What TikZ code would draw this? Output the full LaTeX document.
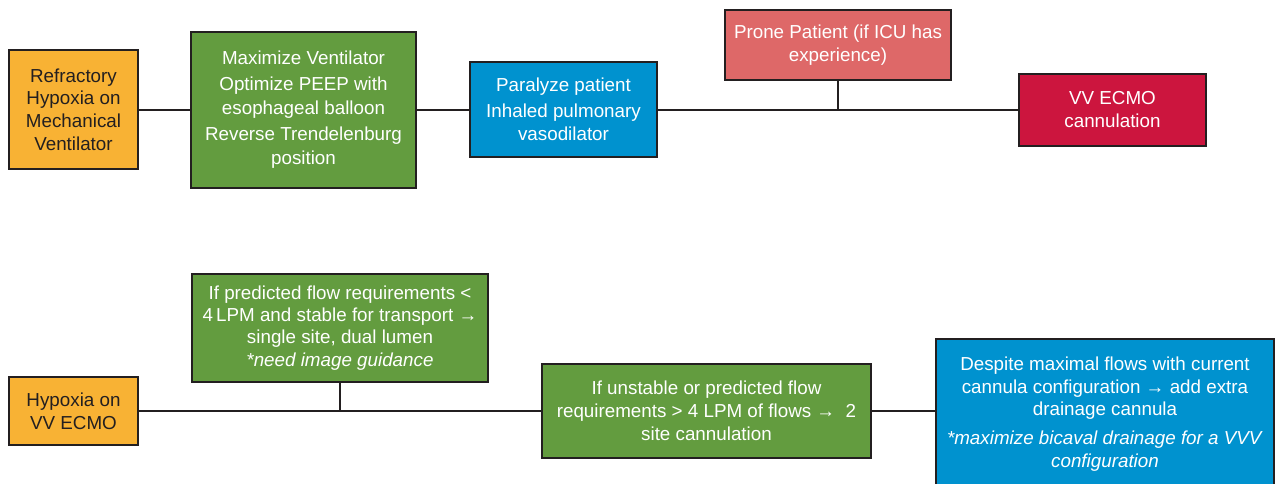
\documentclass[tikz,border=0pt]{standalone}
\usepackage{fontspec}
\setmainfont{Liberation Sans}
\definecolor{orangeC}{RGB}{248,178,52}
\definecolor{greenC}{RGB}{99,156,63}
\definecolor{blueC}{RGB}{0,146,207}
\definecolor{proneC}{RGB}{222,104,104}
\definecolor{redC}{RGB}{204,21,62}
\definecolor{edgeC}{RGB}{35,31,32}
\begin{document}
\begin{tikzpicture}[x=0.5pt,y=-0.5pt,
  box/.style={draw=edgeC,line width=1pt,rectangle,align=center,inner sep=0pt,
    font=\fontsize{9.4}{11.4}\selectfont},
  wtext/.style={text=white},
  dtext/.style={text=edgeC},
  conn/.style={draw=edgeC,line width=1pt}]
\useasboundingbox (0,0) rectangle (1275,483);
\fill[white] (0,0) rectangle (1275,483);
% top row
\node[box,dtext,fill=orangeC,minimum width=64.5pt,minimum height=59.5pt] (refr) at (73.5,109.5)
  {Refractory\\Hypoxia on\\Mechanical\\Ventilator};
\node[box,wtext,fill=greenC,minimum width=112.5pt,minimum height=78pt,
  font=\fontsize{9.4}{12}\selectfont] (maxv) at (303.5,109.5)
  {Maximize Ventilator\\[1pt]Optimize PEEP with\\esophageal balloon\\[1pt]Reverse Trendelenburg\\position};
\node[box,wtext,fill=blueC,minimum width=93.5pt,minimum height=47.5pt] (para) at (563.5,109.5)
  {Paralyze patient\\[1.5pt]Inhaled pulmonary\\vasodilator};
\node[box,wtext,fill=proneC,minimum width=113pt,minimum height=35pt] (prone) at (838,45)
  {Prone Patient (if ICU has\\experience)};
\node[box,wtext,fill=redC,minimum width=93.5pt,minimum height=36pt] (vvecmo) at (1112.5,109.5)
  {VV ECMO\\cannulation};
\coordinate (pj) at (838,109.5);
\draw[conn] (refr.east) -- (maxv.west);
\draw[conn] (maxv.east) -- (para.west);
\draw[conn] (para.east) -- (vvecmo.west);
\draw[conn] (prone.south) -- (pj);
% bottom row
\node[box,dtext,fill=orangeC,minimum width=64.5pt,minimum height=34pt] (hyp) at (73.5,411)
  {Hypoxia on\\VV ECMO};
\node[box,wtext,fill=greenC,minimum width=148pt,minimum height=54pt,
  font=\fontsize{9.4}{11.1}\selectfont] (pred) at (340,328)
  {If predicted flow requirements <\\4\,LPM and stable for transport →\\single site, dual lumen\\\textit{*need image guidance}};
\node[box,wtext,fill=greenC,minimum width=164.5pt,minimum height=47pt] (unst) at (706.5,411)
  {If unstable or predicted flow\\requirements > 4 LPM of flows →\ \ 2\\site cannulation};
\node[box,wtext,fill=blueC,minimum width=169pt,minimum height=75pt,anchor=north] (desp) at (1105,338)
  {Despite maximal flows with current\\cannula configuration → add extra\\drainage cannula\\[3pt]\textit{*maximize bicaval drainage for a VVV}\\\textit{configuration}};
\coordinate (bj) at (340,411);
\draw[conn] (hyp.east) -- (unst.west);
\draw[conn] (unst.east) -- (unst.east -| desp.west);
\draw[conn] (pred.south) -- (bj);
\end{tikzpicture}
\end{document}
